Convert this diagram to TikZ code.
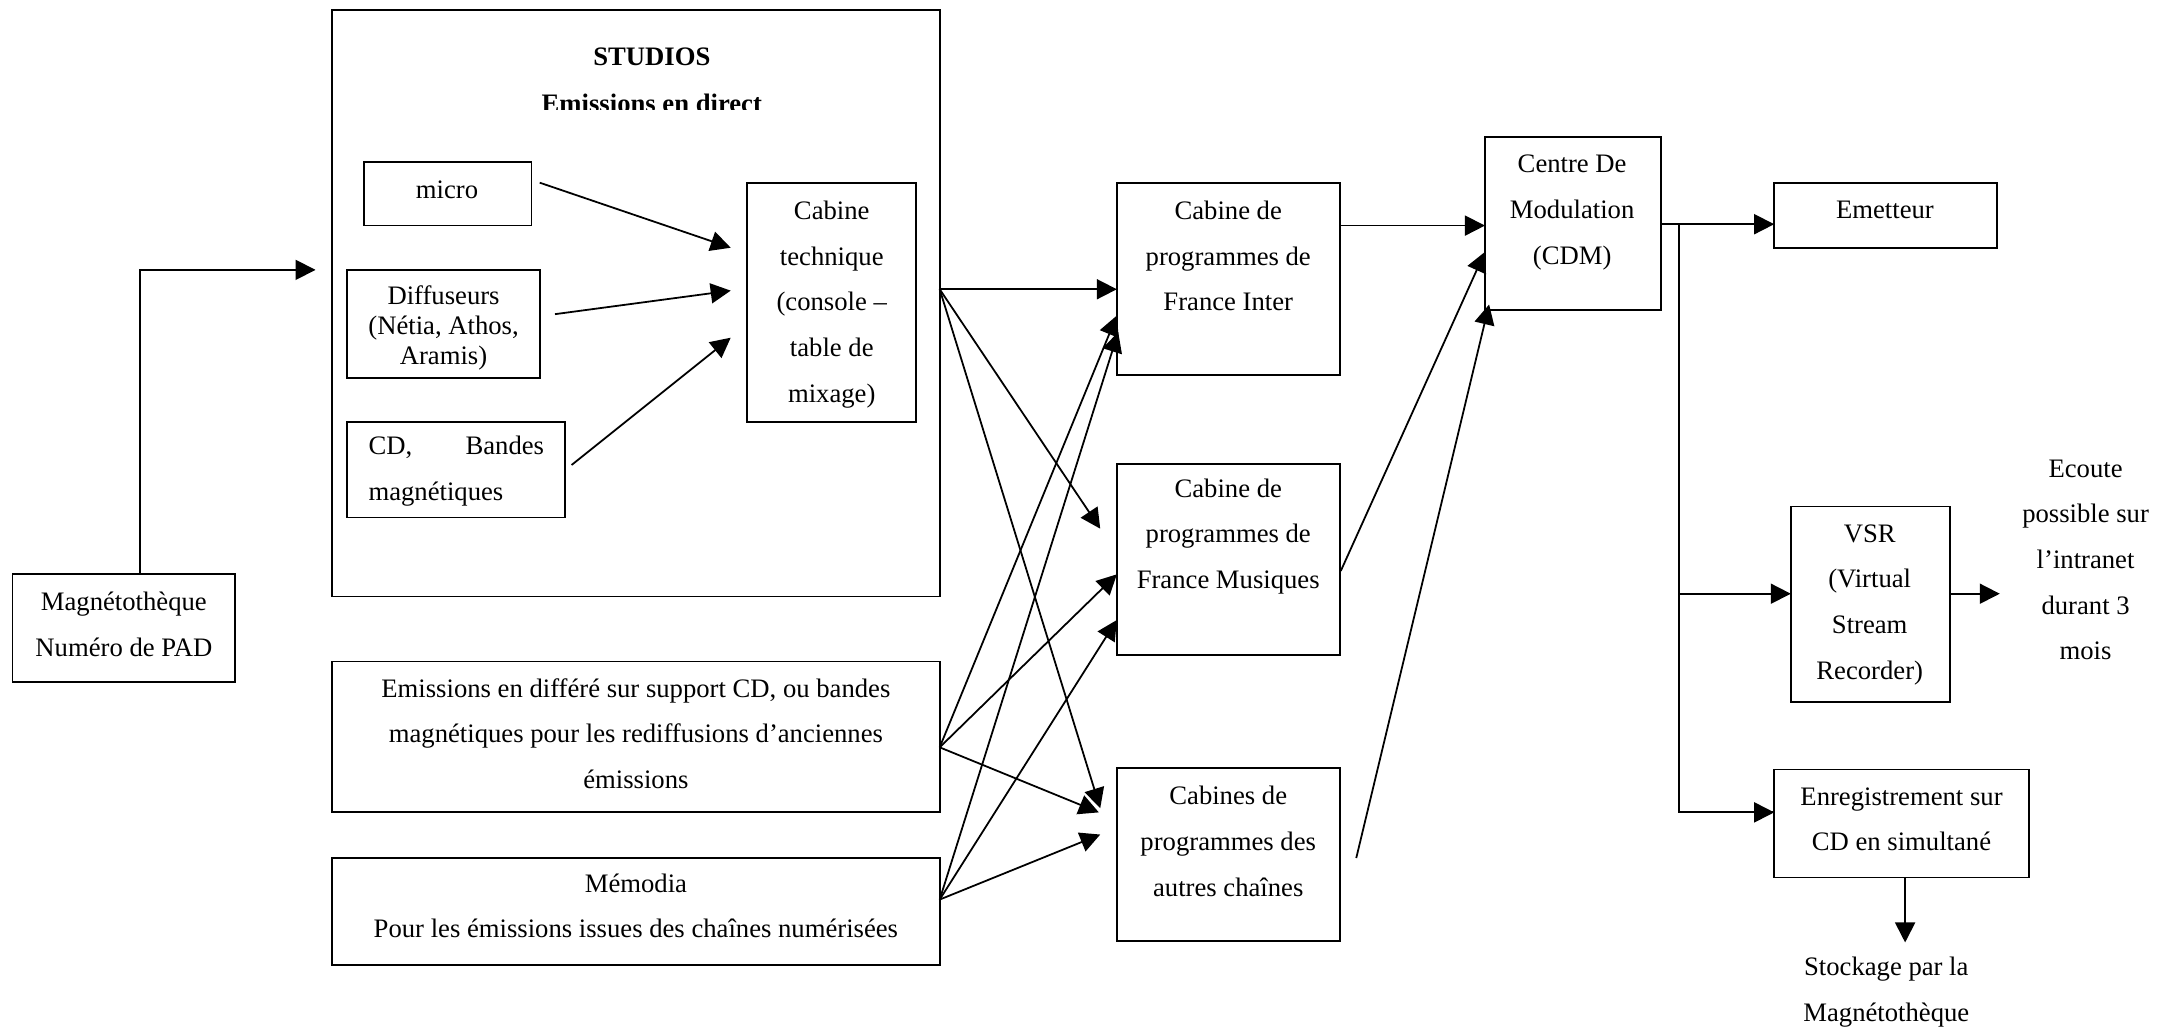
\documentclass[tikz,border=0pt]{standalone}
\usepackage{fontspec}
\setmainfont{Liberation Serif}
\usetikzlibrary{arrows.meta,fit}
\begin{document}
\begin{tikzpicture}[x=0.6228pt,y=-0.6228pt,
  box/.style={draw,line width=0.8pt,inner sep=0pt},
  txt/.style={align=center,inner sep=0pt,font=\fontsize{12pt}{20.55pt}\selectfont},
  stxt/.style={align=center,inner sep=0pt,font=\fontsize{12pt}{13.7pt}\selectfont},
  btxt/.style={inner sep=0pt,anchor=base,font=\fontsize{12pt}{20.55pt}\selectfont\bfseries},
  arr/.style={line width=0.8pt,-{Triangle[length=9pt,width=9pt]}},
  ln/.style={line width=0.8pt}]
\useasboundingbox (0,0) rectangle (1568,746);

% boxes
\node[box,fit={(9,415) (170,493)}] (mag) {};
\node[box,fit={(240,7) (679,431)}] (studios) {};
\node[box,fit={(263,117) (384,163)}] (micro) {};
\node[box,fit={(251,195) (390,273)}] (diff) {};
\node[box,fit={(251,305) (408,374)}] (cdb) {};
\node[box,fit={(540,132) (662,305)}] (cabt) {};
\node[box,fit={(240,478) (679,587)}] (differe) {};
\node[box,fit={(240,620) (679,697)}] (memo) {};
\node[box,fit={(807,132) (968,271)}] (inter) {};
\node[box,fit={(807,335) (968,473)}] (musiq) {};
\node[box,fit={(807,555) (968,680)}] (autres) {};
\node[box,fit={(1073,99) (1200,224)}] (cdm) {};
\node[box,fit={(1282,132) (1443,179)}] (emet) {};
\node[box,fit={(1294,366) (1409,507)}] (vsr) {};
\node[box,fit={(1282,556) (1466,634)}] (enreg) {};

% texts
\node[txt] (tmag) at (89.5,451) {Magnétothèque\\Numéro de PAD};
\node[btxt] (tstud) at (471,47.5) {STUDIOS};
\begin{scope}
\clip (240,0) rectangle (679,79);
\node[btxt] (tdir) at (471,81) {Emissions en direct};
\end{scope}
\node[txt] (tmicro) at (323,137) {micro};
\node[stxt] (tdiff) at (320.5,237) {Diffuseurs\\(Nétia, Athos,\\Aramis)};
\node[txt,align=left,anchor=west] (tcd) at (266,340.5) {\makebox[79pt]{CD,\hfill Bandes}\\magnétiques};
\node[txt] (tcabt) at (601,220) {Cabine\\technique\\(console --\\table de\\mixage)};
\node[txt] (tdiffere) at (459.5,530) {Emissions en différé sur support CD, ou bandes\\magnétiques pour les rediffusions d’anciennes\\émissions};
\node[txt] (tmemo) at (459.5,654.5) {Mémodia\\Pour les émissions issues des chaînes numérisées};
\node[txt] (tinter) at (887.5,185) {Cabine de\\programmes de\\France Inter};
\node[txt] (tmusiq) at (887.5,387.5) {Cabine de\\programmes de\\France Musiques};
\node[txt] (tautres) at (887.5,608) {Cabines de\\programmes des\\autres chaînes};
\node[txt] (tcdm) at (1136,153.5) {Centre De\\Modulation\\(CDM)};
\node[txt] (temet) at (1362,151.5) {Emetteur};
\node[txt] (tvsr) at (1351,437) {VSR\\(Virtual\\Stream\\Recorder)};
\node[txt] (tenreg) at (1374,592) {Enregistrement sur\\CD en simultané};
\node[txt] (tecoute) at (1507,404.5) {Ecoute\\possible sur\\l’intranet\\durant 3\\mois};
\node[txt] (tstock) at (1363,717) {Stockage par la\\Magnétothèque};

% ports
\coordinate (magout) at (101,415);
\coordinate (studin) at (228,195);
\coordinate (micout) at (390,132);
\coordinate (difout) at (401,227);
\coordinate (cdout) at (413,336);
\coordinate (cabin1) at (528,179);
\coordinate (cabin2) at (528,210);
\coordinate (cabin3) at (528,244);
\coordinate (sout) at (679,209);
\coordinate (dout) at (679,540);
\coordinate (mout) at (679,650);
\coordinate (in1) at (807,209);
\coordinate (in2) at (807,228);
\coordinate (in3) at (808,240);
\coordinate (mu1) at (795,382);
\coordinate (mu2) at (807,415);
\coordinate (mu3) at (807,448);
\coordinate (au1) at (795,584);
\coordinate (au2) at (794,587);
\coordinate (au3) at (795,603);
\coordinate (interout) at (968,163);
\coordinate (musout) at (968.8,412.6);
\coordinate (autout) at (980,620);
\coordinate (cdm1) at (1073,163);
\coordinate (cdm2) at (1073,182);
\coordinate (cdm3) at (1076,220);
\coordinate (cdmout) at (1200,162);
\coordinate (br) at (1213,162);
\coordinate (emin) at (1282,162);
\coordinate (vsrin) at (1294,429);
\coordinate (enin) at (1282,587);
\coordinate (vsrout) at (1409,429);
\coordinate (ecin) at (1445,429);
\coordinate (enout) at (1376.6,634);
\coordinate (stin) at (1376.6,681);

% connectors
\draw[arr] (magout) |- (studin);
\draw[arr] (micout) -- (cabin1);
\draw[arr] (difout) -- (cabin2);
\draw[arr] (cdout) -- (cabin3);
\draw[arr] (sout) -- (in1);
\draw[arr] (sout) -- (mu1);
\draw[arr] (sout) -- (au1);
\draw[arr] (dout) -- (in2);
\draw[arr] (dout) -- (mu2);
\draw[arr] (dout) -- (au2);
\draw[arr] (mout) -- (in3);
\draw[arr] (mout) -- (mu3);
\draw[arr] (mout) -- (au3);
\draw[arr] (interout) -- (cdm1);
\draw[arr] (musout) -- (cdm2);
\draw[arr] (autout) -- (cdm3);
\draw[arr] (cdmout) -- (emin);
\draw[ln] (br) |- (enin);
\draw[arr] (br |- enin) -- (enin);
\draw[arr] (br |- vsrin) -- (vsrin);
\draw[arr] (vsrout) -- (ecin);
\draw[arr] (enout) -- (stin);
\end{tikzpicture}
\end{document}
